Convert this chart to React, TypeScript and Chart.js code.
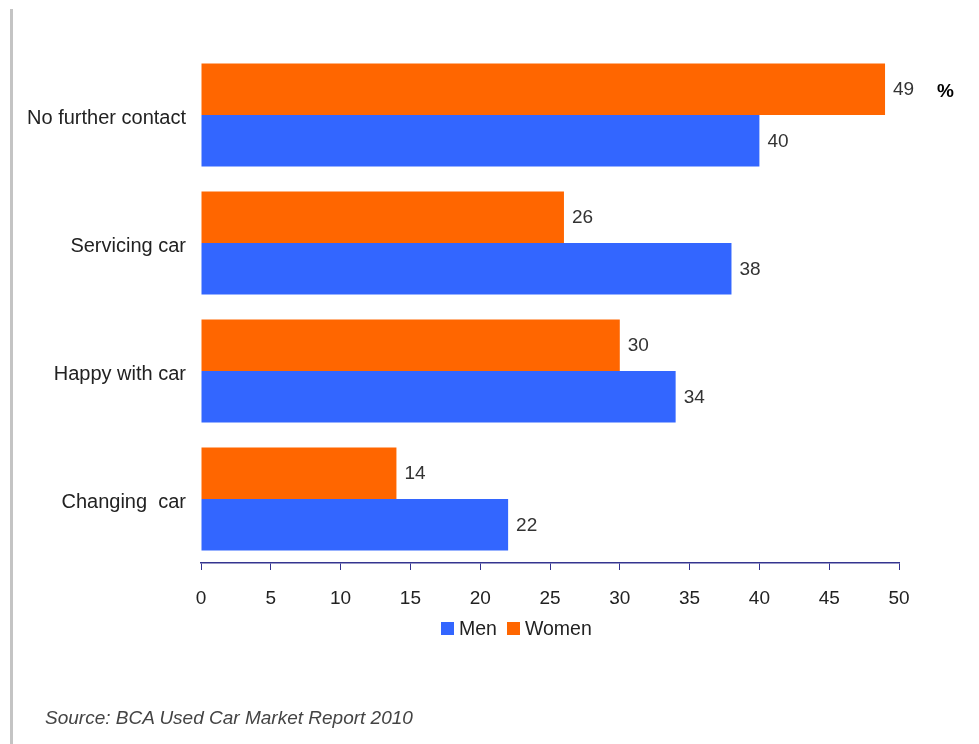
import React, { useEffect, useRef } from "react";
import { Chart, registerables } from "chart.js";

Chart.register(...registerables);

const categories = ["No further contact", "Servicing car", "Happy with car", "Changing  car"];
const womenValues = [49, 26, 30, 14];
const menValues = [40, 38, 34, 22];
const xTicks = [0, 5, 10, 15, 20, 25, 30, 35, 40, 45, 50];
const seriesNames = ["Women", "Men"];
const unitLabel = "%";
const sourceText = "Source: BCA Used Car Market Report 2010";

const FONT = "'Liberation Sans', Arial, Helvetica, sans-serif";
const ORANGE = "#FF6600";
const BLUE = "#3366FF";
const NAVY = "#34348f";

const valueLabels = {
  id: "valueLabels",
  afterDatasetsDraw(chart: any) {
    const ctx = chart.ctx;
    ctx.save();
    ctx.font = `19px ${FONT}`;
    ctx.fillStyle = "#333333";
    ctx.textAlign = "left";
    ctx.textBaseline = "middle";
    chart.data.datasets.forEach((ds: any, di: number) => {
      const meta = chart.getDatasetMeta(di);
      meta.data.forEach((bar: any, i: number) => {
        ctx.fillText(String(ds.data[i]), bar.x + 8, bar.y + 1);
      });
    });
    ctx.restore();
  },
};

const legendItems = [
  { name: seriesNames[1], color: BLUE },
  { name: seriesNames[0], color: ORANGE },
];

export default function App() {
  const ref = useRef<HTMLCanvasElement | null>(null);

  useEffect(() => {
    if (!ref.current) return;
    const chart = new Chart(ref.current, {
      type: "bar",
      data: {
        labels: categories,
        datasets: [
          { label: seriesNames[0], data: womenValues, backgroundColor: ORANGE, borderWidth: 0 },
          { label: seriesNames[1], data: menValues, backgroundColor: BLUE, borderWidth: 0 },
        ],
      },
      options: {
        indexAxis: "y",
        animation: false,
        responsive: false,
        layout: { padding: { left: 10, right: 80, top: 51, bottom: 136 } },
        datasets: { bar: { categoryPercentage: 0.805, barPercentage: 1 } },
        scales: {
          x: {
            min: 0,
            max: 50,
            afterFit: (s: any) => { s.height = 45; },
            afterBuildTicks: (s: any) => { s.ticks = xTicks.map((v) => ({ value: v })); },
            grid: { drawOnChartArea: false, drawTicks: true, tickLength: 7, color: NAVY, lineWidth: 1 },
            border: { display: true, color: NAVY, width: 1.5 },
            ticks: { font: { size: 19, family: FONT }, color: "#222222", padding: 17 },
          },
          y: {
            afterFit: (s: any) => { s.width = 191; },
            grid: { display: false, drawTicks: false },
            border: { display: false },
            ticks: { font: { size: 20, family: FONT }, color: "#222222", padding: 15, labelOffset: 3 },
          },
        },
        plugins: {
          legend: { display: false },
          tooltip: { enabled: false },
        },
      },
      plugins: [valueLabels],
    });
    return () => chart.destroy();
  }, []);

  return (
    <div style={{ position: "absolute", left: 0, top: 0, width: 979, height: 744, background: "#ffffff", overflow: "hidden" }}>
      <canvas ref={ref} width={979} height={744} style={{ position: "absolute", left: 0, top: 0, width: 979, height: 744 }} />
      <div style={{ position: "absolute", left: 10, top: 9, width: 3, height: 735, background: "#c4c4c4" }} />
      <div style={{ position: "absolute", left: 937, top: 79, font: `bold 19px ${FONT}`, color: "#000", lineHeight: "24px" }}>{unitLabel}</div>
      <div style={{ position: "absolute", left: 441, top: 616, height: 24, display: "flex", alignItems: "center", font: `19.5px ${FONT}`, color: "#222", whiteSpace: "nowrap" }}>
        {legendItems.map((it, i) => (
          <div key={i} style={{ display: "flex", alignItems: "center", marginRight: 10 }}>
            <span style={{ display: "inline-block", width: 13, height: 13, background: it.color, marginRight: 5 }} />
            <span style={{ lineHeight: "24px" }}>{it.name}</span>
          </div>
        ))}
      </div>
      <div style={{ position: "absolute", left: 45, top: 706, font: `italic 19px ${FONT}`, color: "#444", lineHeight: "24px", whiteSpace: "nowrap" }}>{sourceText}</div>
    </div>
  );
}
